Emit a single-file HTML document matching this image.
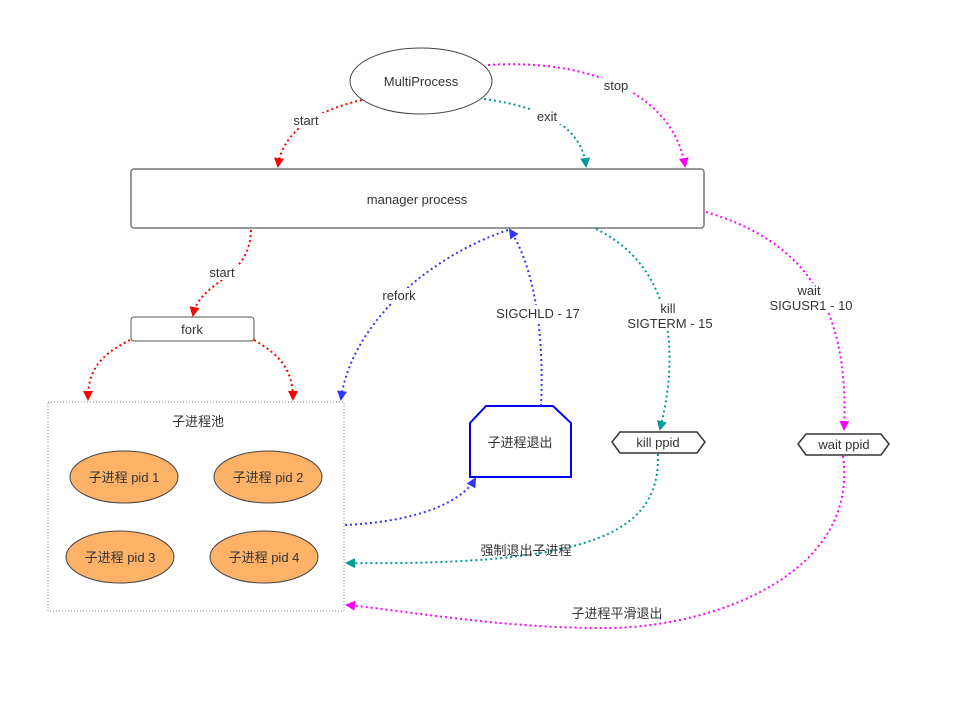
<!DOCTYPE html>
<html><head><meta charset="utf-8"><style>
body{margin:0;background:#fff}
svg{display:block}
text{font-family:"Liberation Sans","Noto Sans CJK SC",sans-serif;font-size:13px;fill:#333;text-anchor:middle}
.d{fill:none;stroke-width:2;stroke-dasharray:2,3}
</style></head><body>
<svg width="976" height="725" viewBox="0 0 976 725">
<defs>
<marker id="r" markerWidth="10" markerHeight="10" refX="8" refY="5" orient="auto" markerUnits="userSpaceOnUse"><path d="M0,0 L10,5 L0,10Z" fill="#f00"/></marker>
<marker id="t" markerWidth="10" markerHeight="10" refX="8" refY="5" orient="auto" markerUnits="userSpaceOnUse"><path d="M0,0 L10,5 L0,10Z" fill="#099"/></marker>
<marker id="m" markerWidth="10" markerHeight="10" refX="8" refY="5" orient="auto" markerUnits="userSpaceOnUse"><path d="M0,0 L10,5 L0,10Z" fill="#f0f"/></marker>
<marker id="b" markerWidth="10" markerHeight="10" refX="8" refY="5" orient="auto" markerUnits="userSpaceOnUse"><path d="M0,0 L10,5 L0,10Z" fill="#33f"/></marker>
</defs>
<!-- nodes -->
<ellipse cx="421" cy="81" rx="71" ry="33" fill="#fff" stroke="#444"/>
<text x="421" y="86">MultiProcess</text>
<rect x="131" y="169" width="573" height="59" rx="3" fill="#fff" stroke="#777" stroke-width="1.5"/>
<text x="417" y="204">manager process</text>
<rect x="131" y="317" width="123" height="24" rx="3" fill="#fff" stroke="#555"/>
<text x="192" y="334">fork</text>
<rect x="48" y="402" width="296" height="209" fill="none" stroke="#888" stroke-dasharray="1,2"/>
<text x="198" y="426">子进程池</text>
<g fill="#fdb268" stroke="#444">
<ellipse cx="124" cy="477" rx="54" ry="26"/><ellipse cx="268" cy="477" rx="54" ry="26"/>
<ellipse cx="120" cy="557" rx="54" ry="26"/><ellipse cx="264" cy="557" rx="54" ry="26"/></g>
<text x="124" y="482">子进程 pid 1</text><text x="268" y="482">子进程 pid 2</text>
<text x="120" y="562">子进程 pid 3</text><text x="264" y="562">子进程 pid 4</text>
<polygon points="470,423 486,406 553,406 571,423 571,477 470,477" fill="#fff" stroke="#00f" stroke-width="2"/>
<text x="520" y="447">子进程退出</text>
<polygon points="612,442 620,432 697,432 705,442 697,453 620,453" fill="#fff" stroke="#333" stroke-width="1.5"/>
<text x="658" y="447">kill ppid</text>
<polygon points="798,444 806,434 881,434 889,444 881,455 806,455" fill="#fff" stroke="#333" stroke-width="1.5"/>
<text x="844" y="449">wait  ppid</text>
<!-- edges -->
<path class="d" stroke="#f00" d="M362,100 C310,112 282,135 278,166" marker-end="url(#r)"/>
<path class="d" stroke="#099" d="M484,99 C550,108 582,130 586,166" marker-end="url(#t)"/>
<path class="d" stroke="#f0f" d="M488,65 C600,58 675,100 685,166" marker-end="url(#m)"/>
<path class="d" stroke="#f00" d="M251,230 C250,280 200,280 193,315" marker-end="url(#r)"/>
<path class="d" stroke="#f00" d="M130,340 C100,355 88,370 88,399" marker-end="url(#r)"/>
<path class="d" stroke="#f00" d="M254,340 C280,355 293,370 293,399" marker-end="url(#r)"/>
<path class="d" stroke="#33f" d="M508,230 C420,260 350,330 341,399" marker-end="url(#b)"/>
<path class="d" stroke="#33f" d="M541,406 C545,320 530,260 510,230" marker-end="url(#b)"/>
<path class="d" stroke="#099" d="M596,229 C660,260 685,330 660,429" marker-end="url(#t)"/>
<path class="d" stroke="#f0f" d="M706,212 C800,240 850,300 844,429" marker-end="url(#m)"/>
<path class="d" stroke="#33f" d="M345,525 C410,522 460,505 475,479" marker-end="url(#b)"/>
<path class="d" stroke="#099" d="M658,454 C660,530 600,566 347,563" marker-end="url(#t)"/>
<path class="d" stroke="#f0f" d="M843,456 C860,580 700,630 600,628 C500,628 400,610 347,605" marker-end="url(#m)"/>
<!-- labels -->
<g>
<rect x="288" y="113" width="36" height="15" fill="#fff"/><text x="306" y="125">start</text>
<rect x="532" y="109" width="30" height="15" fill="#fff"/><text x="547" y="121">exit</text>
<rect x="600" y="78" width="34" height="15" fill="#fff"/><text x="616" y="90">stop</text>
<rect x="204" y="265" width="36" height="15" fill="#fff"/><text x="222" y="277">start</text>
<rect x="377" y="288" width="44" height="15" fill="#fff"/><text x="399" y="300">refork</text>
<rect x="492" y="305" width="92" height="16" fill="#fff"/><text x="538" y="318">SIGCHLD - 17</text>
<rect x="624" y="300" width="92" height="30" fill="#fff"/><text x="668" y="313">kill</text><text x="670" y="328">SIGTERM - 15</text>
<rect x="766" y="283" width="90" height="30" fill="#fff"/><text x="809" y="295">wait</text><text x="811" y="310">SIGUSR1 - 10</text>
<text x="526" y="555">强制退出子进程</text>
<text x="617" y="618">子进程平滑退出</text>
</g>
</svg>
</body></html>
